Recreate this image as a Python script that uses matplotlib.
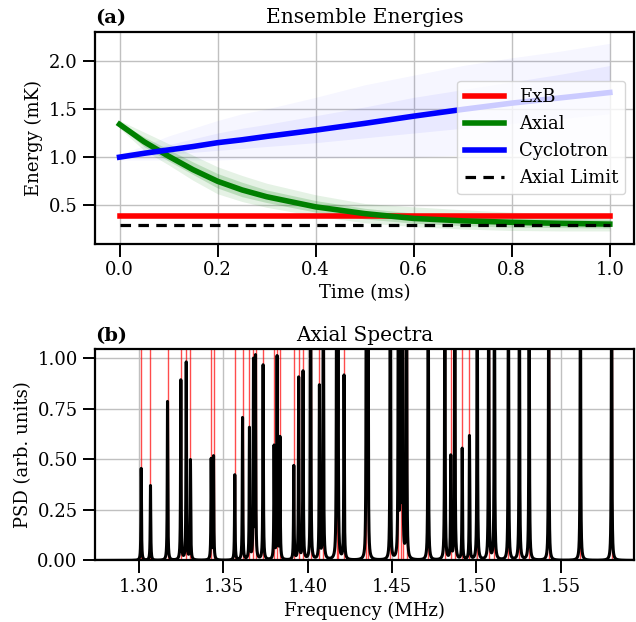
import numpy as np
import matplotlib
matplotlib.use("Agg")
import matplotlib.pyplot as plt

# ---- panel (a): ensemble energies (mK) ----
time_ms = [0.0, 0.05, 0.1, 0.15, 0.2, 0.25, 0.3, 0.4, 0.5, 0.6, 0.7, 0.8, 0.9, 1.0]

exb_mean = [0.389] * len(time_ms)
exb_lo = [0.372] * len(time_ms)
exb_hi = [0.405] * len(time_ms)

axial_mean = [1.34, 1.16, 1.01, 0.87, 0.75, 0.66, 0.59, 0.485, 0.415, 0.365, 0.34, 0.325, 0.314, 0.306]
axial_lo = [1.30, 1.07, 0.92, 0.76, 0.62, 0.54, 0.48, 0.39, 0.32, 0.28, 0.255, 0.24, 0.235, 0.235]
axial_hi = [1.38, 1.26, 1.14, 1.02, 0.90, 0.81, 0.73, 0.61, 0.52, 0.485, 0.455, 0.43, 0.415, 0.40]
axial_lo_core = [1.32, 1.11, 0.96, 0.82, 0.68, 0.59, 0.53, 0.43, 0.36, 0.315, 0.29, 0.275, 0.27, 0.265]
axial_hi_core = [1.36, 1.21, 1.08, 0.95, 0.83, 0.74, 0.66, 0.55, 0.47, 0.42, 0.395, 0.38, 0.365, 0.355]

cyc_mean = [1.0, 1.04, 1.075, 1.11, 1.15, 1.18, 1.215, 1.28, 1.35, 1.425, 1.495, 1.56, 1.615, 1.67]
cyc_lo = [0.97, 0.97, 0.97, 0.97, 0.97, 0.98, 0.98, 0.99, 1.0, 1.0, 1.02, 1.04, 1.06, 1.08]
cyc_hi = [1.03, 1.12, 1.22, 1.30, 1.38, 1.45, 1.50, 1.62, 1.75, 1.85, 1.95, 2.03, 2.10, 2.18]
cyc_lo_core = [0.99, 1.01, 1.03, 1.05, 1.07, 1.09, 1.11, 1.15, 1.20, 1.25, 1.30, 1.35, 1.40, 1.45]
cyc_hi_core = [1.01, 1.07, 1.13, 1.19, 1.25, 1.30, 1.34, 1.43, 1.52, 1.62, 1.70, 1.78, 1.86, 1.95]

axial_limit = 0.295

# ---- panel (b): axial spectrum peaks (MHz, arb. units) ----
# peaks taller than the axis are given 1.6 (clipped at the top)
peak_freq = [1.3012, 1.3067, 1.3168, 1.3247, 1.3279, 1.3304, 1.3427, 1.3441,
             1.3567, 1.3613, 1.3654, 1.3678, 1.3690, 1.3735, 1.3800, 1.3818,
             1.3835, 1.3917, 1.3946, 1.3972, 1.4017, 1.4069, 1.4092, 1.4171,
             1.4179, 1.4215, 1.4347, 1.4357, 1.4489, 1.4537, 1.4550, 1.4562,
             1.4586, 1.4714, 1.4813, 1.4848, 1.4872, 1.4916, 1.4959, 1.5005,
             1.5073, 1.5107, 1.5190, 1.5255, 1.5313, 1.5429, 1.5617, 1.5802]
peak_height = [0.455, 0.37, 0.786, 0.89, 0.977, 0.493, 0.497, 0.51,
               0.422, 0.704, 0.649, 0.974, 0.993, 0.964, 0.558, 1.0,
               0.60, 0.464, 0.90, 0.93, 1.6, 0.856, 1.6, 1.6,
               1.6, 0.91, 1.6, 1.6, 1.6, 1.6, 1.6, 1.6,
               1.6, 1.6, 1.6, 0.508, 1.6, 0.55, 0.613, 1.6,
               1.6, 1.6, 1.6, 1.6, 1.6, 1.6, 1.6, 1.6]
peak_width = 0.00018  # MHz, half width of each line

plt.rcParams['font.family'] = ['DejaVu Serif']
plt.rcParams['axes.linewidth'] = 1.6
plt.rcParams['xtick.major.size'] = 9
plt.rcParams['ytick.major.size'] = 9
plt.rcParams['xtick.major.width'] = 1.4
plt.rcParams['ytick.major.width'] = 1.4
plt.rcParams['xtick.labelsize'] = 13
plt.rcParams['ytick.labelsize'] = 13
plt.rcParams['axes.labelsize'] = 13

fig = plt.figure(figsize=(6.36, 6.22), dpi=100)
ax1 = fig.add_axes([0.1494, 0.6085, 0.848, 0.3405])
ax2 = fig.add_axes([0.1494, 0.0989, 0.848, 0.3395])

for ax in (ax1, ax2):
    ax.grid(True, color='#c0c0c0', lw=1.0, zorder=0)
    ax.set_axisbelow(True)

# ensemble spread
ax1.fill_between(time_ms, exb_lo, exb_hi, color='red', alpha=0.15, lw=0)
ax1.fill_between(time_ms, axial_lo, axial_hi, color='green', alpha=0.10, lw=0)
ax1.fill_between(time_ms, axial_lo_core, axial_hi_core, color='green', alpha=0.18, lw=0)
ax1.fill_between(time_ms, cyc_lo, cyc_hi, color='blue', alpha=0.035, lw=0)
ax1.fill_between(time_ms, cyc_lo_core, cyc_hi_core, color='blue', alpha=0.05, lw=0)

ax1.plot(time_ms, exb_mean, color='red', lw=4, label='ExB')
ax1.plot(time_ms, axial_mean, color='green', lw=4, label='Axial')
ax1.plot(time_ms, cyc_mean, color='blue', lw=4, label='Cyclotron')
ax1.plot([time_ms[0], time_ms[-1]], [axial_limit, axial_limit], color='black',
         lw=2.3, ls=(0, (3.3, 2.3)), label='Axial Limit')

ax1.set_xlim(-0.05, 1.05)
ax1.set_ylim(0.105, 2.30)
ax1.set_xticks([0.0, 0.2, 0.4, 0.6, 0.8, 1.0])
ax1.set_yticks([0.5, 1.0, 1.5, 2.0])
ax1.set_xlabel('Time (ms)')
ax1.set_ylabel('Energy (mK)')
ax1.set_title('Ensemble Energies', fontsize=14.5)
ax1.set_title('(a)', loc='left', fontweight='bold', fontsize=14)
ax1.legend(loc='center right', fontsize=13, handlelength=2.2, borderaxespad=0.5)

# spectrum
freq = np.linspace(1.272, 1.596, 32401)
psd = np.zeros_like(freq)
for f0, h in zip(peak_freq, peak_height):
    psd += h * peak_width**2 / ((freq - f0)**2 + peak_width**2)

for f0 in peak_freq:
    ax2.axvline(f0, color='red', lw=1.0, alpha=0.7, zorder=1)
ax2.plot(freq, psd, color='black', lw=2.2, zorder=2)

ax2.set_xlim(1.2738, 1.5937)
ax2.set_ylim(0, 1.045)
ax2.set_xticks([1.30, 1.35, 1.40, 1.45, 1.50, 1.55])
ax2.set_yticks([0.0, 0.25, 0.5, 0.75, 1.0])
ax2.xaxis.set_major_formatter(matplotlib.ticker.FormatStrFormatter('%.2f'))
ax2.yaxis.set_major_formatter(matplotlib.ticker.FormatStrFormatter('%.2f'))
ax2.set_xlabel('Frequency (MHz)')
ax2.set_ylabel('PSD (arb. units)')
ax2.set_title('Axial Spectra', fontsize=14.5)
ax2.set_title('(b)', loc='left', fontweight='bold', fontsize=14)

fig.savefig('out.png', dpi=100)
